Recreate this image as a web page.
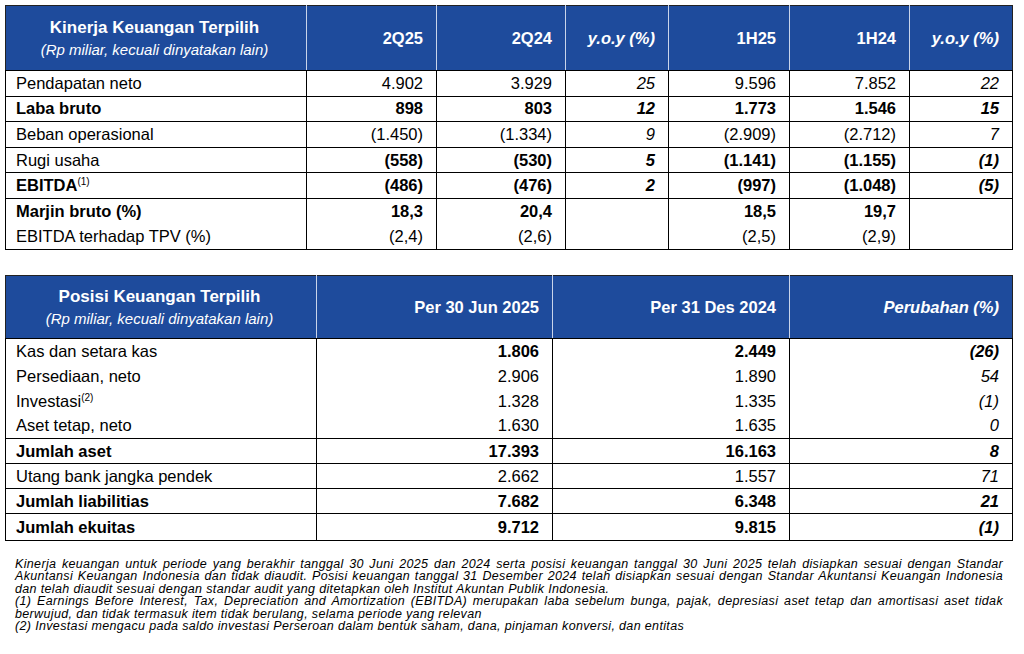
<!DOCTYPE html>
<html>
<head>
<meta charset="utf-8">
<script src="https://cdn.jsdelivr.net/npm/chart.js"></script>
<style>
body { margin: 0; width: 1024px; height: 654px; background: #fff; font-family: "Liberation Sans", Arial, sans-serif; color: #000; position: relative; overflow: hidden; }
table { position: absolute; left: 5px; border-collapse: collapse; table-layout: fixed; font-size: 16.5px; }
td, th { padding: 0 13px 0 10px; white-space: nowrap; border-left: 1.5px solid #000; border-right: 1.5px solid #000; text-align: right; }
th { background: #1e4b9c; color: #fff; font-weight: bold; border-top: 1.5px solid #222; border-bottom: 1.5px solid #000; border-left-color: #c9d4ea; border-right-color: #c9d4ea; }
th:first-child { text-align: center; border-left-color: #222; font-size: 17px; }
th:last-child { border-right-color: #222; }
th .sub { display: block; font-weight: normal; font-style: italic; font-size: 15px; margin-top: 3px; }
th.it { font-style: italic; }
td:first-child { text-align: left; padding-left: 10px; }
td.it { font-style: italic; }
tr.sep td { border-top: 1.5px solid #000; }
tr.last td { border-bottom: 1.5px solid #000; }
.b { font-weight: bold; }
sup { font-size: 10px; vertical-align: 6px; line-height: 0; font-weight: normal; }
#t1 { top: 5px; width: 1007px; }
#t2 { top: 275px; width: 1007px; }
#note { position: absolute; left: 15px; top: 558px; width: 988px; font-size: 12.5px; letter-spacing: 0.35px; font-style: italic; line-height: 12.4px; }
#note div { white-space: nowrap; text-align: justify; text-align-last: justify; }
#note div.end { text-align-last: left; }
</style>
</head>
<body>
<table id="t1"></table>
<table id="t2"></table>
<div id="note"></div>
<script>
// tabel 1 - kinerja keuangan
var perfTitle = "Kinerja Keuangan Terpilih";
var perfSub = "(Rp miliar, kecuali dinyatakan lain)";
var perfCols = ["2Q25", "2Q24", "y.o.y (%)", "1H25", "1H24", "y.o.y (%)"];
var perfRows = ["Pendapatan neto", "Laba bruto", "Beban operasional", "Rugi usaha", "EBITDA", "Marjin bruto (%)", "EBITDA terhadap TPV (%)"];
var perfNotes = ["", "", "", "", "(1)", "", ""];
var q2y25 = [4902, 898, -1450, -558, -486, 18.3, -2.4];
var q2y24 = [3929, 803, -1334, -530, -476, 20.4, -2.6];
var yoyQ2 = [25, 12, 9, 5, 2, null, null];
var h1y25 = [9596, 1773, -2909, -1141, -997, 18.5, -2.5];
var h1y24 = [7852, 1546, -2712, -1155, -1048, 19.7, -2.9];
var yoyH1 = [22, 15, 7, -1, -5, null, null];

// tabel 2 - posisi keuangan
var posTitle = "Posisi Keuangan Terpilih";
var posSub = "(Rp miliar, kecuali dinyatakan lain)";
var posCols = ["Per 30 Jun 2025", "Per 31 Des 2024", "Perubahan (%)"];
var posRows = ["Kas dan setara kas", "Persediaan, neto", "Investasi", "Aset tetap, neto", "Jumlah aset", "Utang bank jangka pendek", "Jumlah liabilitias", "Jumlah ekuitas"];
var posNotes = ["", "", "(2)", "", "", "", "", ""];
var jun2025 = [1806, 2906, 1328, 1630, 17393, 2662, 7682, 9712];
var des2024 = [2449, 1890, 1335, 1635, 16163, 1557, 6348, 9815];
var change = [-26, 54, -1, 0, 8, 71, 21, -1];

var noteLines = [
  ["Kinerja keuangan untuk periode yang berakhir tanggal 30 Juni 2025 dan 2024 serta posisi keuangan tanggal 30 Juni 2025 telah disiapkan sesuai dengan Standar",
   "Akuntansi Keuangan Indonesia dan tidak diaudit. Posisi keuangan tanggal 31 Desember 2024 telah disiapkan sesuai dengan Standar Akuntansi Keuangan Indonesia",
   "dan telah diaudit sesuai dengan standar audit yang ditetapkan oleh Institut Akuntan Publik Indonesia."],
  ["(1) Earnings Before Interest, Tax, Depreciation and Amortization (EBITDA) merupakan laba sebelum bunga, pajak, depresiasi aset tetap dan amortisasi aset tidak",
   "berwujud, dan tidak termasuk item tidak berulang, selama periode yang relevan"],
  ["(2) Investasi mengacu pada saldo investasi Perseroan dalam bentuk saham, dana, pinjaman konversi, dan entitas"]
];

function fmt(v, dec) {
  if (v === null) return "";
  var s = Math.abs(v).toFixed(dec).split(".");
  var txt = s[0].replace(/\B(?=(\d{3})+(?!\d))/g, ".") + (s[1] ? "," + s[1] : "");
  return v < 0 ? "(" + txt + ")" : txt;
}

function header(title, sub, cols, widths, italicCols, h) {
  var html = '<colgroup>';
  widths.forEach(function (w) { html += '<col style="width:' + w + 'px">'; });
  html += '</colgroup><tr style="height:' + h + 'px"><th>' + title + '<span class="sub">' + sub + '</span></th>';
  cols.forEach(function (c, i) {
    html += '<th class="' + (italicCols.indexOf(i) >= 0 ? 'it' : '') + '">' + c + '</th>';
  });
  return html + '</tr>';
}

function cell(txt, cls) {
  return '<td class="' + cls + '">' + txt + '</td>';
}

// tabel 1
var t1 = header(perfTitle, perfSub, perfCols, [301, 130, 129, 103, 121, 120, 103], [2, 5], 65);
var boldLabel1 = [1, 4, 5];
var boldVal1 = [1, 3, 4, 5];
for (var i = 0; i < perfRows.length; i++) {
  var dec = i >= 5 ? 1 : 0;
  var bl = boldLabel1.indexOf(i) >= 0 ? "b" : "";
  var bv = boldVal1.indexOf(i) >= 0 ? "b" : "";
  var cls = (i == 6 ? "" : "sep") + (i == perfRows.length - 1 ? " last" : "");
  t1 += '<tr class="' + cls + '" style="height:25.6px">';
  t1 += cell(perfRows[i] + (perfNotes[i] ? '<sup>' + perfNotes[i] + '</sup>' : ''), bl);
  t1 += cell(fmt(q2y25[i], dec), bv) + cell(fmt(q2y24[i], dec), bv) + cell(fmt(yoyQ2[i], 0), "it " + bv);
  t1 += cell(fmt(h1y25[i], dec), bv) + cell(fmt(h1y24[i], dec), bv) + cell(fmt(yoyH1[i], 0), "it " + bv);
  t1 += '</tr>';
}
document.getElementById("t1").innerHTML = t1;

// tabel 2
var t2 = header(posTitle, posSub, posCols, [311, 236, 237, 223], [2], 63);
var boldLabel2 = [4, 6, 7];
var boldVal2 = [0, 4, 6, 7];
for (var j = 0; j < posRows.length; j++) {
  var bl2 = boldLabel2.indexOf(j) >= 0 ? "b" : "";
  var bv2 = boldVal2.indexOf(j) >= 0 ? "b" : "";
  var cls2 = (j >= 1 && j <= 3 ? "" : "sep") + (j == posRows.length - 1 ? " last" : "");
  t2 += '<tr class="' + cls2 + '" style="height:' + (j == 7 ? 27 : 25) + 'px">';
  t2 += cell(posRows[j] + (posNotes[j] ? '<sup>' + posNotes[j] + '</sup>' : ''), bl2);
  t2 += cell(fmt(jun2025[j], 0), bv2) + cell(fmt(des2024[j], 0), bv2) + cell(fmt(change[j], 0), "it " + bv2);
  t2 += '</tr>';
}
document.getElementById("t2").innerHTML = t2;

// catatan kaki
var note = "";
noteLines.forEach(function (par) {
  par.forEach(function (line, k) {
    note += '<div class="' + (k == par.length - 1 ? 'end' : '') + '">' + line + '</div>';
  });
});
document.getElementById("note").innerHTML = note;
</script>
</body>
</html>
